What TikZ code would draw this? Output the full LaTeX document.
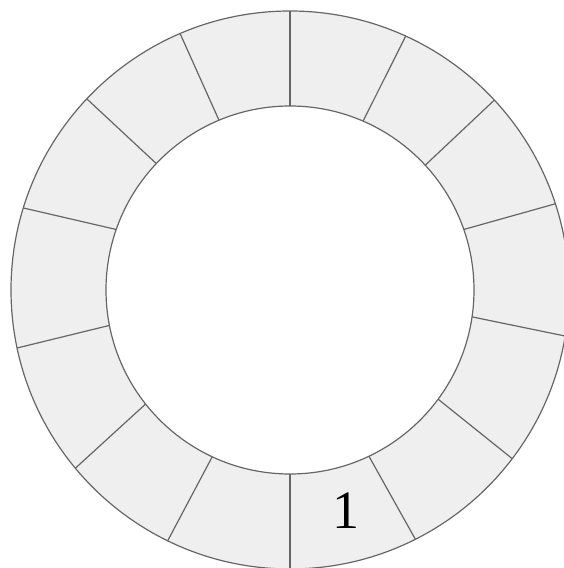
\documentclass[tikz,border=0pt]{standalone}
\usepackage{fontspec}
\setmainfont{Liberation Serif}
\definecolor{ringfill}{HTML}{EFEFEF}
\definecolor{ringline}{HTML}{666666}
\tikzset{
  ringedge/.style={draw=ringline, line width=1.2pt},
  divider/.style={draw=ringline, line width=1.2pt},
  seglabel/.style={font=\fontsize{54}{54}\selectfont, text=black, inner sep=0pt}
}
\begin{document}
\begin{tikzpicture}[x=1pt,y=1pt]
\useasboundingbox (0,0) rectangle (564,568);
\clip (0,0) rectangle (564,568);
\coordinate (c) at (290,278);
\fill[ringfill, even odd rule] (c) circle (279) (c) circle (184);
\draw[ringedge] (c) circle (279);
\draw[ringedge] (c) circle (184);
\begin{scope}[shift={(c)}]
  \foreach \ain/\aout in {90/90, 112.7/113.2, 136.6/136.75, 160.8/162.9, 191.1/192.0,
      218.3/219.7, 245.0/244.0, 270/270, 295.4/296.7, 323.6/322.8, 351.6/350.5,
      19.2/18.0, 42.7/42.9, 66.6/65.5}
    \draw[divider] (\ain:184) -- (\aout:279);
\end{scope}
\node[seglabel] (one) at (346,57) {1};
\end{tikzpicture}
\end{document}
